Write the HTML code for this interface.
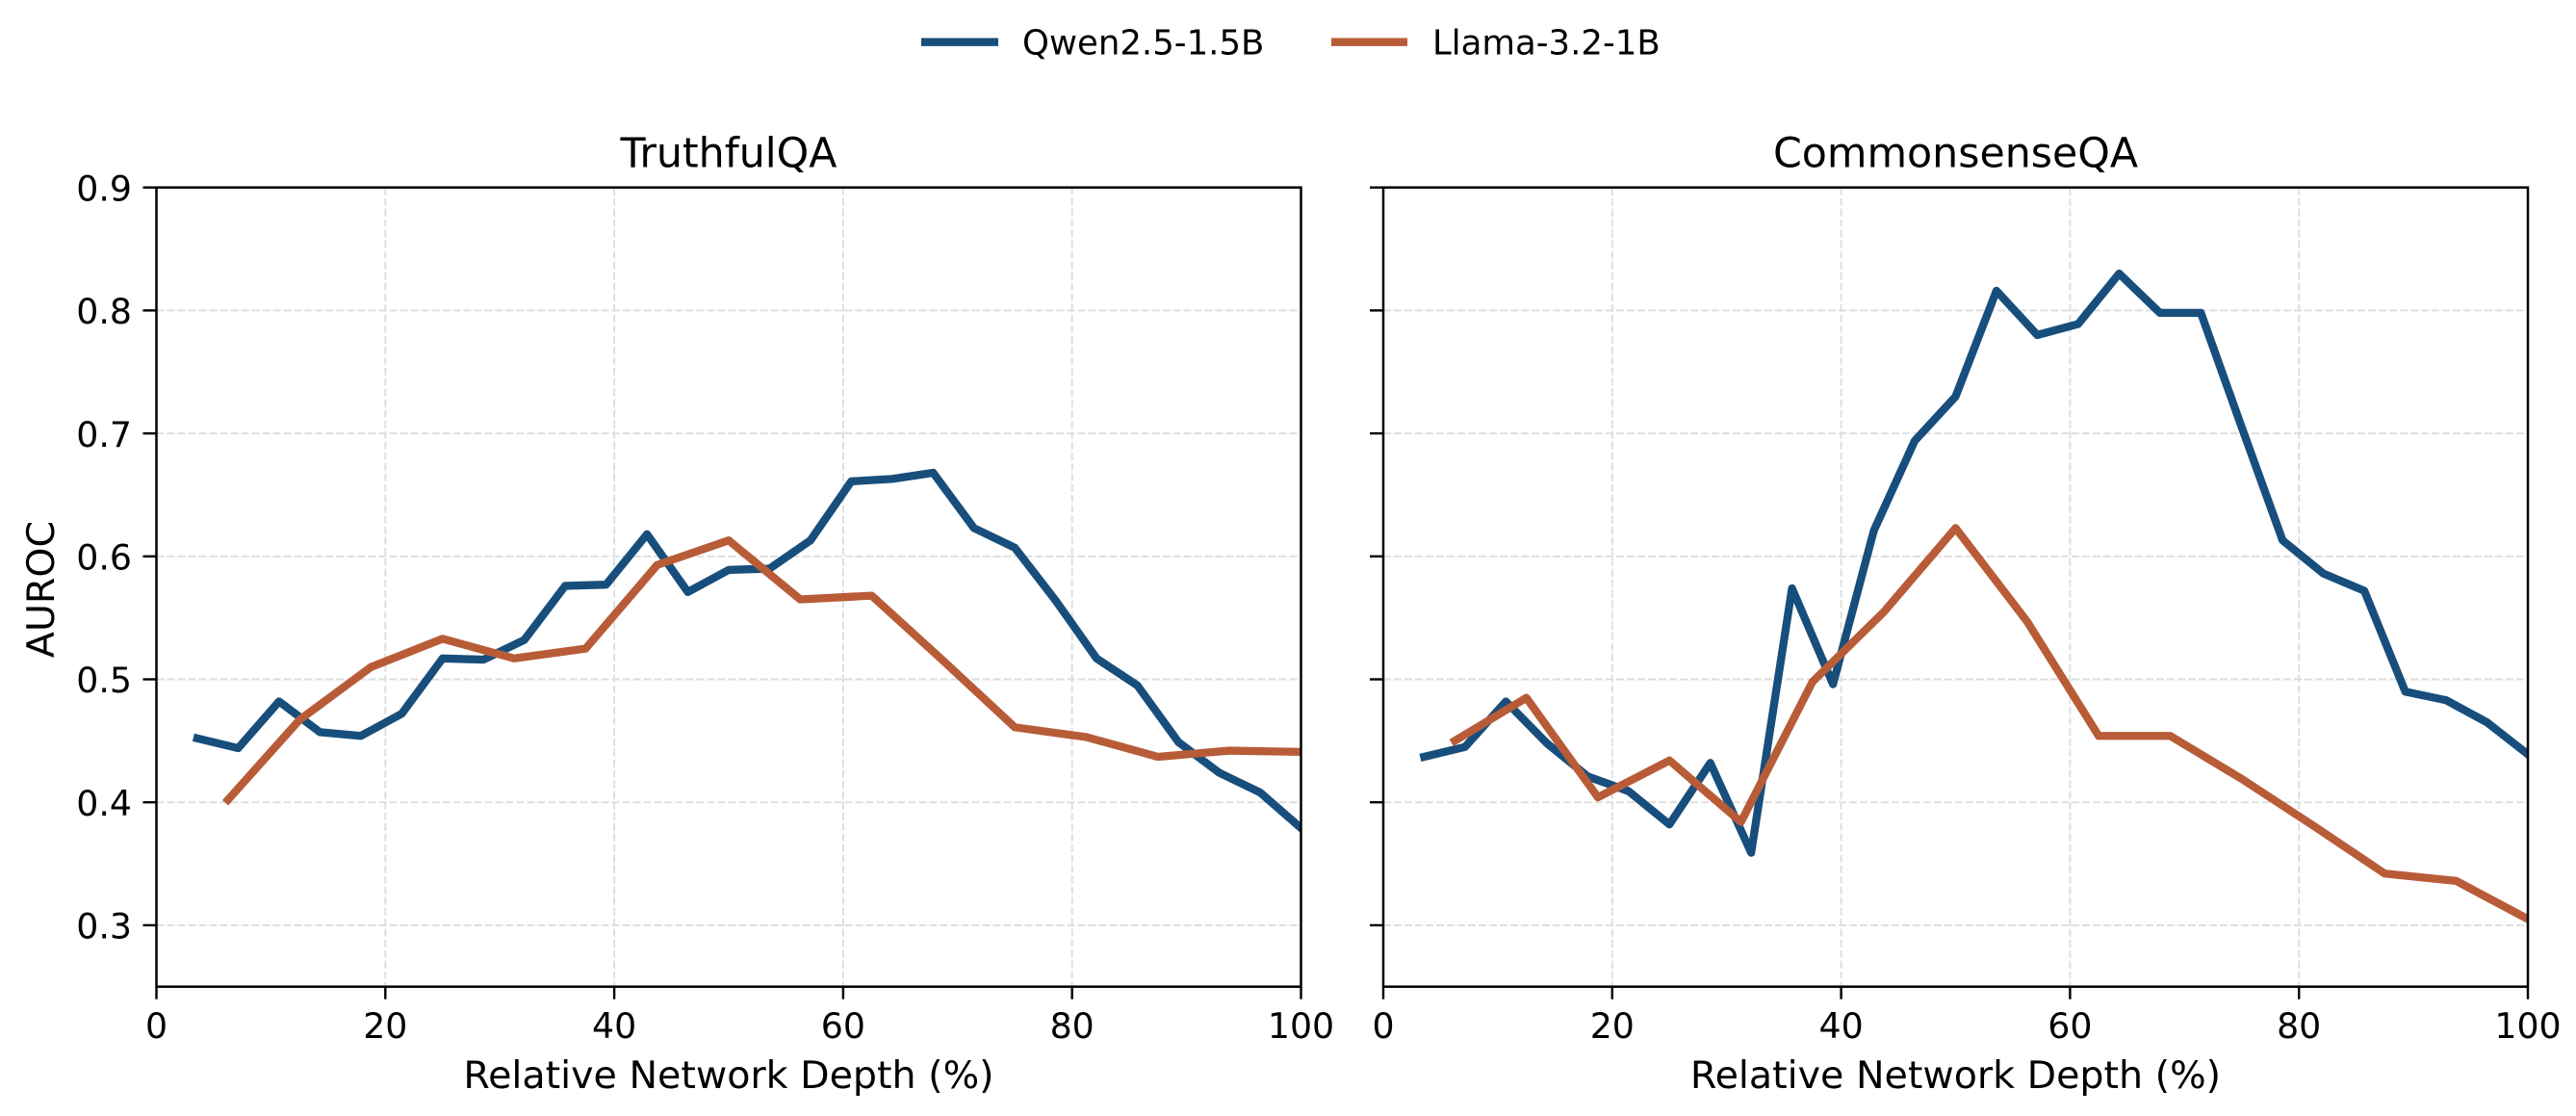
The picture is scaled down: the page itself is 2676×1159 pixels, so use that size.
<!DOCTYPE html>
<html lang="en">
<head>
<meta charset="utf-8">
<title>AUROC by Relative Network Depth</title>
<style>
html,body{margin:0;padding:0;background:#fff;width:2676px;height:1159px;overflow:hidden}
svg{display:block}
text{font-family:"DejaVu Sans","Liberation Sans",sans-serif;fill:#000}
.tick-label{font-size:36.3px}
.axis-label{font-size:39.55px}
.panel-title{font-size:42.7px}
.legend-label{font-size:35.5px}
</style>
</head>
<body>
<svg id="figure" xmlns="http://www.w3.org/2000/svg" width="2676" height="1159" viewBox="0 0 2676 1159">
  <defs>
    <clipPath id="clip-left"><rect x="162.5" y="194.7" width="1189" height="830"/></clipPath>
    <clipPath id="clip-right"><rect x="1437" y="194.7" width="1189" height="830"/></clipPath>
  </defs>
  <g id="panel-left"></g>
  <g id="panel-right"></g>
  <text class="panel-title" x="757" y="173.5" text-anchor="middle">TruthfulQA</text>
  <text class="panel-title" x="2031.5" y="173.5" text-anchor="middle">CommonsenseQA</text>
  <text class="axis-label" x="757" y="1130" text-anchor="middle">Relative Network Depth (%)</text>
  <text class="axis-label" x="2031.5" y="1130" text-anchor="middle">Relative Network Depth (%)</text>
  <text class="axis-label" transform="translate(56 612) rotate(-90)" text-anchor="middle">AUROC</text>
  <g>
    <g>
      <line x1="957" y1="43.7" x2="1037" y2="43.7" stroke="#174e7c" stroke-width="8.3"/>
      <text class="legend-label" x="1062" y="56.7">Qwen2.5-1.5B</text>
    </g>
    <g>
      <line x1="1383" y1="43.7" x2="1462" y2="43.7" stroke="#b85c38" stroke-width="8.3"/>
      <text class="legend-label" x="1488" y="56.7">Llama-3.2-1B</text>
    </g>
  </g>
</svg>
<script>
const xTickValues = [0, 20, 40, 60, 80, 100];
const yTickValues = [0.3, 0.4, 0.5, 0.6, 0.7, 0.8, 0.9];
const xTickLabels = ["0", "20", "40", "60", "80", "100"];
const yTickLabels = ["0.3", "0.4", "0.5", "0.6", "0.7", "0.8", "0.9"];

const qwenDepth = [3.57, 7.14, 10.71, 14.29, 17.86, 21.43, 25, 28.57, 32.14, 35.71, 39.29, 42.86, 46.43, 50, 53.57, 57.14, 60.71, 64.29, 67.86, 71.43, 75, 78.57, 82.14, 85.71, 89.29, 92.86, 96.43, 100];
const llamaDepth = [6.25, 12.5, 18.75, 25, 31.25, 37.5, 43.75, 50, 56.25, 62.5, 68.75, 75, 81.25, 87.5, 93.75, 100];

const truthfulQwen = [0.452, 0.444, 0.482, 0.457, 0.454, 0.472, 0.517, 0.516, 0.532, 0.576, 0.577, 0.618, 0.571, 0.589, 0.590, 0.613, 0.661, 0.663, 0.668, 0.623, 0.607, 0.564, 0.517, 0.495, 0.449, 0.424, 0.408, 0.379];
const truthfulLlama = [0.402, 0.467, 0.510, 0.533, 0.517, 0.525, 0.593, 0.613, 0.565, 0.568, 0.515, 0.461, 0.453, 0.437, 0.442, 0.441];
const commonsenseQwen = [0.437, 0.445, 0.482, 0.448, 0.421, 0.409, 0.382, 0.432, 0.359, 0.574, 0.496, 0.621, 0.694, 0.730, 0.816, 0.780, 0.789, 0.830, 0.798, 0.798, 0.705, 0.613, 0.586, 0.572, 0.490, 0.483, 0.465, 0.439];
const commonsenseLlama = [0.450, 0.485, 0.404, 0.434, 0.384, 0.498, 0.555, 0.623, 0.547, 0.454, 0.454, 0.419, 0.381, 0.342, 0.336, 0.305];

const SVG_NS = "http://www.w3.org/2000/svg";
const QWEN_COLOR = "#174e7c";
const LLAMA_COLOR = "#b85c38";
const PLOT_TOP = 194.7;
const PLOT_BOTTOM = 1024.7;

function yScale(v) {
  return PLOT_TOP + (0.9 - v) * 1277;
}

function makeXScale(left, right) {
  return function (p) {
    return left + (p / 100) * (right - left);
  };
}

function makeLine(x1, y1, x2, y2, stroke, width) {
  const el = document.createElementNS(SVG_NS, "line");
  el.setAttribute("x1", x1);
  el.setAttribute("y1", y1);
  el.setAttribute("x2", x2);
  el.setAttribute("y2", y2);
  el.setAttribute("stroke", stroke);
  el.setAttribute("stroke-width", width);
  return el;
}

function makeSeries(xs, ys, xScale, color, clipId) {
  const el = document.createElementNS(SVG_NS, "polyline");
  const pts = xs.map(function (x, i) {
    return xScale(x).toFixed(2) + "," + yScale(ys[i]).toFixed(2);
  });
  el.setAttribute("points", pts.join(" "));
  el.setAttribute("fill", "none");
  el.setAttribute("stroke", color);
  el.setAttribute("stroke-width", "8.3");
  el.setAttribute("stroke-linejoin", "round");
  el.setAttribute("stroke-linecap", "square");
  el.setAttribute("clip-path", "url(#" + clipId + ")");
  return el;
}

function drawPanel(groupId, left, right, clipId, qwenValues, llamaValues, showYLabels) {
  const group = document.getElementById(groupId);
  const xScale = makeXScale(left, right);

  xTickValues.forEach(function (t, i) {
    const px = xScale(t);
    if (t > 0 && t < 100) {
      const grid = makeLine(px, PLOT_TOP, px, PLOT_BOTTOM, "#dddddd", 1.9);
      grid.setAttribute("stroke-dasharray", "8 3");
      
      
      group.appendChild(grid);
    }
    const tick = makeLine(px, PLOT_BOTTOM, px, PLOT_BOTTOM + 13, "#000", 2.4);
    
    
    group.appendChild(tick);
    const label = document.createElementNS(SVG_NS, "text");
    label.setAttribute("class", "tick-label");
    label.setAttribute("x", px);
    label.setAttribute("y", 1078);
    label.setAttribute("text-anchor", "middle");
    label.textContent = xTickLabels[i];
    
    
    group.appendChild(label);
  });

  yTickValues.forEach(function (t, i) {
    const py = yScale(t);
    if (t < 0.9) {
      const grid = makeLine(left, py, right, py, "#dddddd", 1.9);
      grid.setAttribute("stroke-dasharray", "8 3");
      
      
      group.appendChild(grid);
    }
    const tick = makeLine(left - 14, py, left, py, "#000", 2.4);
    
    
    group.appendChild(tick);
    if (showYLabels) {
      const label = document.createElementNS(SVG_NS, "text");
      label.setAttribute("class", "tick-label");
      label.setAttribute("x", left - 25.5);
      label.setAttribute("y", py + 13.7);
      label.setAttribute("text-anchor", "end");
      label.textContent = yTickLabels[i];
      
      
      group.appendChild(label);
    }
  });

  const qwenLine = makeSeries(qwenDepth, qwenValues, xScale, QWEN_COLOR, clipId);
  
  
  group.appendChild(qwenLine);

  const llamaLine = makeSeries(llamaDepth, llamaValues, xScale, LLAMA_COLOR, clipId);
  
  
  group.appendChild(llamaLine);

  const frame = document.createElementNS(SVG_NS, "rect");
  frame.setAttribute("x", left);
  frame.setAttribute("y", PLOT_TOP);
  frame.setAttribute("width", right - left);
  frame.setAttribute("height", PLOT_BOTTOM - PLOT_TOP);
  frame.setAttribute("fill", "none");
  frame.setAttribute("stroke", "#000");
  frame.setAttribute("stroke-width", "2.5");
  
  
  group.appendChild(frame);
}

drawPanel("panel-left", 162.5, 1351.5, "clip-left", truthfulQwen, truthfulLlama, true);
drawPanel("panel-right", 1437, 2626, "clip-right", commonsenseQwen, commonsenseLlama, false);
</script>
</body>
</html>
